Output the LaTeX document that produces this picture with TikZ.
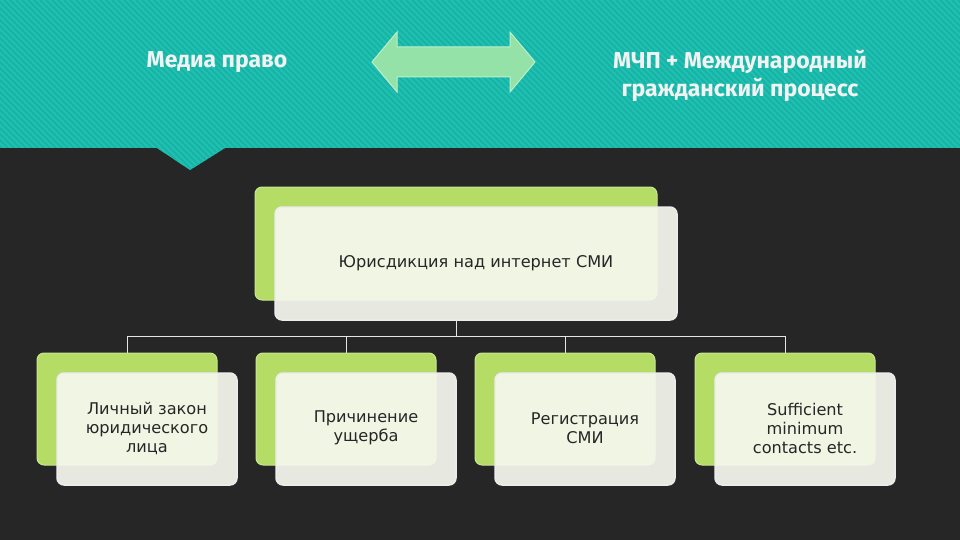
\documentclass[tikz,border=0pt]{standalone}
\usepackage{fontspec}
\setmainfont{Fira Sans}
\newfontfamily\djfont{DejaVu Sans}[Scale=0.95]
\definecolor{bg}{HTML}{262626}
\definecolor{teal1}{HTML}{1EC2B2}
\definecolor{teal2}{HTML}{19B3A4}
\definecolor{lgreen}{HTML}{B5DC65}
\definecolor{front}{HTML}{F6F7EE}
\definecolor{arr}{HTML}{95E2A8}
\begin{document}
\begin{tikzpicture}[x=1pt,y=-1pt,
  backbox/.style={draw=lgreen!70!white,fill=lgreen,rounded corners=7pt,line width=1pt},
  frontbox/.style={draw=white!85!gray,fill=front,fill opacity=0.93,rounded corners=7pt,line width=1.5pt},
  lbl/.style={font=\djfont\fontsize{17}{19}\selectfont,text=black!85,align=center},
  conn/.style={draw=white!80!gray,line width=0.8pt}]
\fill[bg] (0,0) rectangle (960,540);
\useasboundingbox (0,0) rectangle (960,540);
\begin{scope}
\clip (0,0) -- (960,0) -- (960,148) -- (225,148) -- (190,170) -- (157,148) -- (0,148) -- cycle;
\fill[teal1] (0,0) rectangle (960,175);
\foreach \i in {-200,-194,...,1000} \draw[teal2,line width=2pt] (\i,0) -- (\i+180,180);
\end{scope}
\node[font=\fontsize{23}{23}\selectfont\bfseries,text=white!95!black] (t1) at (217,62) {Медиа право};
\node[font=\fontsize{23}{28}\selectfont\bfseries,text=white!95!black,align=center] (t2) at (740,76) {МЧП + Международный\\гражданский процесс};
\fill[arr,draw=arr!60!white,line width=1pt] (372,62) -- (397,32) -- (397,47) -- (510,47) -- (510,32) -- (535,62) -- (510,92) -- (510,77) -- (397,77) -- (397,92) -- cycle;
\draw[backbox] (255,187) rectangle (657,300);
\draw[frontbox] (275,207) rectangle (677,320);
\node[lbl] (top) at (476,263) {Юрисдикция над интернет СМИ};
\coordinate (tb) at (456,320);
\coordinate (hj) at (456,336);
\draw[conn] (tb) -- (hj);
\draw[conn] (127,336) -- (785,336);
\foreach \x/\n/\t in {37/a/{Личный закон\\юридического\\лица},256/b/{Причинение\\ущерба},475/c/{Регистрация\\СМИ},695/d/{Sufficient\\minimum\\contacts etc.}}{
  \draw[conn] (\x+90,336) -- (\x+90,353);
  \draw[backbox] (\x,353) rectangle (\x+180,465);
  \draw[frontbox] (\x+20,373) rectangle (\x+200,485);
  \node[lbl] (\n) at (\x+110,428) {\t};
}
\end{tikzpicture}
\end{document}
